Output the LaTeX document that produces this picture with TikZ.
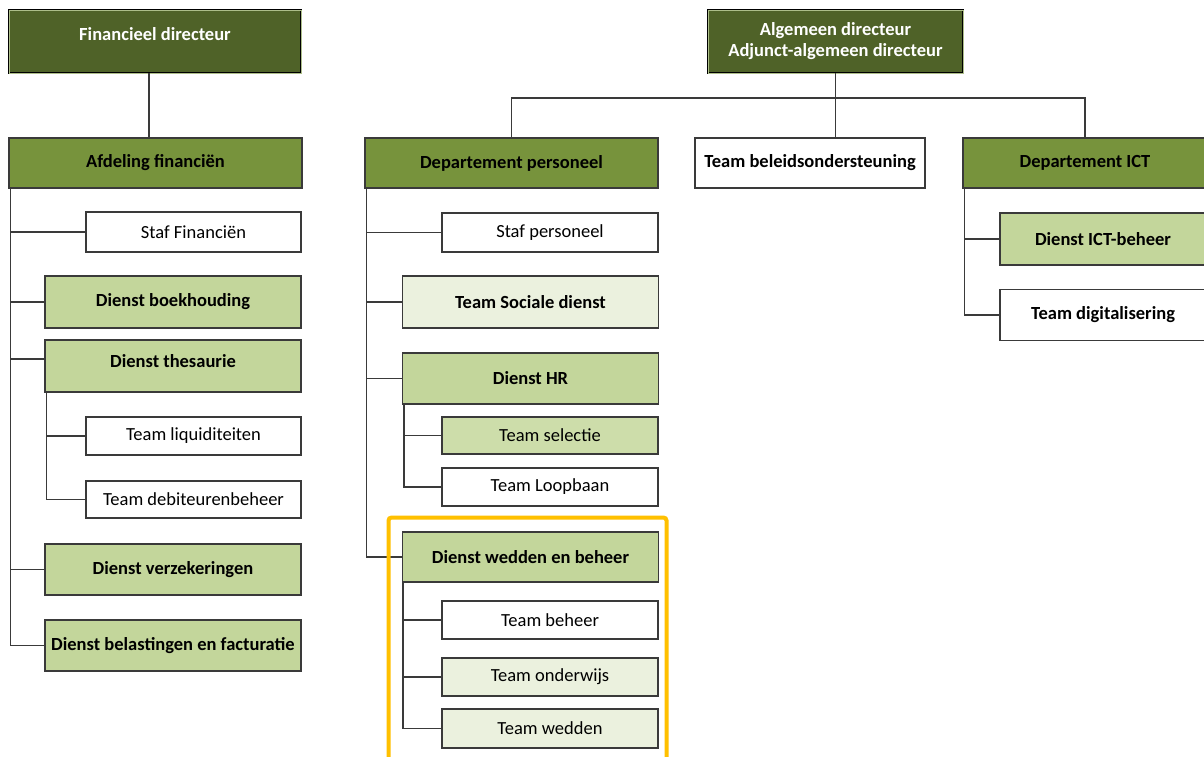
\documentclass[tikz,border=0pt]{standalone}
\usepackage{fontspec}
\setmainfont{Carlito}
\usepackage{xcolor}
\usepackage{tikz}

\definecolor{olivedark}{HTML}{4F6228}
\definecolor{olivemid}{HTML}{77933C}
\definecolor{olivelight}{HTML}{C3D69B}
\definecolor{olivesoft}{HTML}{CDDDAA}
\definecolor{olivepale}{HTML}{EBF1DE}
\definecolor{linegray}{HTML}{3A3A3A}
\definecolor{frameyellow}{HTML}{FFC000}

\tikzset{
  unit/.style={draw=linegray, line width=1.2pt, inner sep=0pt, align=center,
    font=\fontsize{18.5}{21}\selectfont\bfseries},
  chief/.style={unit, fill=olivedark, text=white, draw=black, line width=0.8pt,
    double=olivemid!60, double distance=1pt},
  dept/.style={unit, fill=olivemid},
  dienst/.style={unit, fill=olivelight},
  pale/.style={unit, fill=olivepale},
  plain/.style={unit, fill=white},
  reg/.style={font=\fontsize{18.5}{21}\selectfont},
  link/.style={draw=linegray, line width=1.5pt},
}

\begin{document}
\begin{tikzpicture}[x=1pt, y=-1pt]
  \useasboundingbox (0,0) rectangle (1204,756);
  \fill[white] (0,0) rectangle (1204,756);

  % left branch
  \node[chief, text depth=14pt, minimum width=292pt, minimum height=63pt] (fd) at (155,41.5) {Financieel directeur};
  \node[dept, minimum width=293pt, minimum height=50pt] (af) at (155.5,163) {Afdeling financiën};
  \node[plain, reg, minimum width=215pt, minimum height=40pt] (sfin) at (193.5,232) {Staf Financiën};
  \node[dienst, minimum width=256pt, minimum height=52pt] (dbk) at (173,302) {Dienst boekhouding};
  \node[dienst, text depth=9pt, minimum width=256pt, minimum height=52pt] (dth) at (173,366) {Dienst thesaurie};
  \node[plain, reg, minimum width=215pt, minimum height=38pt] (tliq) at (193.5,436) {Team liquiditeiten};
  \node[plain, reg, minimum width=215pt, minimum height=37pt] (tdeb) at (193.5,499.5) {Team debiteurenbeheer};
  \node[dienst, minimum width=256pt, minimum height=51pt] (dvz) at (173,569.5) {Dienst verzekeringen};
  \node[dienst, minimum width=256pt, minimum height=51pt] (dbf) at (173,645.5) {Dienst belastingen en facturatie};

  \draw[link] ([xshift=-6pt]fd.south) -- ([xshift=-6pt]fd.south |- af.north); % fd-af
  \draw[link] ([xshift=2pt]af.south west) |- (sfin.west); % af-sfin
  \draw[link] ([xshift=2pt]af.south west) |- (dbk.west); % af-dbk
  \draw[link] ([xshift=2pt]af.south west) |- ([yshift=7pt]dth.west); % af-dth
  \draw[link] ([xshift=2pt]af.south west) |- (dvz.west); % af-dvz
  \draw[link] ([xshift=2pt]af.south west) |- (dbf.west); % af-dbf
  \draw[link] ([xshift=2pt]dth.south west) |- (tliq.west); % dth-tliq
  \draw[link] ([xshift=2pt]dth.south west) |- (tdeb.west); % dth-tdeb

  % right branch
  \node[chief, minimum width=255pt, minimum height=63pt] (ad) at (835.5,41.5) {Algemeen directeur\\Adjunct-algemeen directeur};
  \node[dept, minimum width=293pt, minimum height=50pt] (dp) at (511.5,163) {Departement personeel};
  \node[plain, minimum width=230pt, minimum height=50pt] (tbo) at (810,163) {Team beleidsondersteuning};
  \node[dept, minimum width=244pt, minimum height=50pt] (dict) at (1085,163) {Departement ICT};
  \node[dienst, minimum width=206pt, minimum height=52pt] (dib) at (1103,239) {Dienst ICT-beheer};
  \node[plain, minimum width=206pt, minimum height=51pt] (tdig) at (1103,315) {Team digitalisering};

  \node[plain, reg, minimum width=216pt, minimum height=39pt] (sper) at (550,232.5) {Staf personeel};
  \node[pale, minimum width=256pt, minimum height=52pt] (tsd) at (530.5,302) {Team Sociale dienst};
  \node[dienst, minimum width=256pt, minimum height=51pt] (dhr) at (530.5,378.5) {Dienst HR};
  \node[dienst, reg, fill=olivesoft, minimum width=216pt, minimum height=37pt] (tsel) at (550,435.5) {Team selectie};
  \node[plain, reg, minimum width=216pt, minimum height=38pt] (tlb) at (550,487) {Team Loopbaan};
  \node[dienst, minimum width=256pt, minimum height=50pt] (dwb) at (530.5,557) {Dienst wedden en beheer};
  \node[plain, reg, minimum width=216pt, minimum height=38pt] (tbh) at (550,620) {Team beheer};
  \node[pale, reg, minimum width=216pt, minimum height=38pt] (tow) at (550,677) {Team onderwijs};
  \node[pale, reg, minimum width=216pt, minimum height=39pt] (twd) at (550,728.5) {Team wedden};

  \coordinate (bus) at (835.5,98);
  \draw[link] (ad.south) -- (ad.south |- tbo.north); % ad-tbo
  \draw[link] (dp.north) |- (bus) -| (dict.north); % ad-dp-dict
  \draw[link] ([xshift=2pt]dp.south west) |- (sper.west); % dp-sper
  \draw[link] ([xshift=2pt]dp.south west) |- (tsd.west); % dp-tsd
  \draw[link] ([xshift=2pt]dp.south west) |- (dhr.west); % dp-dhr
  \draw[link] ([xshift=2pt]dp.south west) |- (dwb.west); % dp-dwb
  \draw[link] ([xshift=2pt]dhr.south west) |- (tsel.west); % dhr-tsel
  \draw[link] ([xshift=2pt]dhr.south west) |- (tlb.west); % dhr-tlb
  \draw[link] ([xshift=1pt]dwb.south west) |- (tbh.west); % dwb-tbh
  \draw[link] ([xshift=1pt]dwb.south west) |- (tow.west); % dwb-tow
  \draw[link] ([xshift=1pt]dwb.south west) |- (twd.west); % dwb-twd
  \draw[link] ([xshift=2pt]dict.south west) |- (dib.west); % dict-dib
  \draw[link] ([xshift=2pt]dict.south west) |- (tdig.west); % dict-tdig

  % highlight
  \draw[frameyellow, line width=4pt, rounded corners=3pt] (388.5,517.5) rectangle (666.5,775);
\end{tikzpicture}
\end{document}
